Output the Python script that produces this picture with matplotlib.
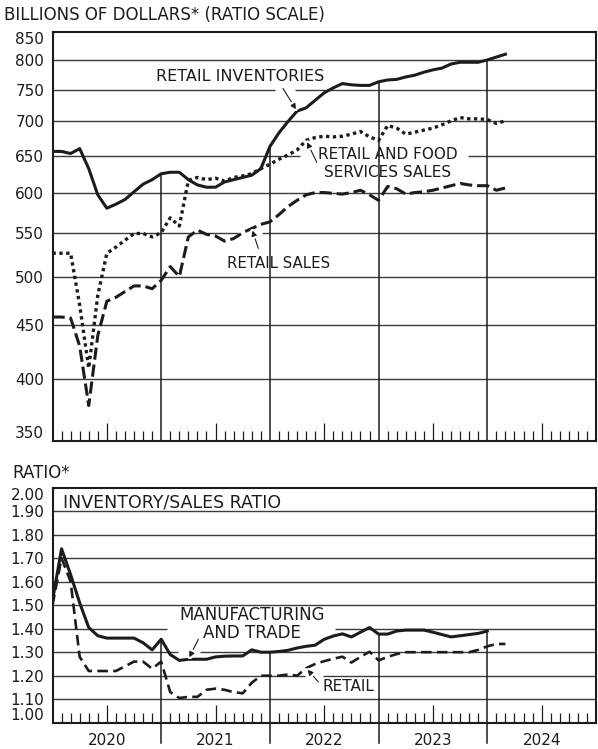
import numpy as np
import matplotlib
matplotlib.use("Agg")
import matplotlib.pyplot as plt
import matplotlib.patheffects as pe

# ---------------- data (monthly, starting January 2020) ----------------
start_year = 2020
years = [2020, 2021, 2022, 2023, 2024]

retail_inventories = [656, 656, 653, 660, 632, 597, 580, 585, 591, 601, 611, 617,
                      625, 627, 627, 617, 610, 607, 607, 614, 617, 620, 623, 632,
                      663, 683, 700, 716, 721, 733, 745, 753, 760, 758, 757, 757,
                      763, 766, 767, 771, 774, 779, 783, 786, 793, 796, 796, 796,
                      800, 805, 810]
retail_food_sales = [526, 526, 526, 470, 410, 480, 526, 533, 541, 549, 549, 545,
                     550, 568, 558, 616, 620, 617, 619, 615, 620, 622, 625, 632,
                     638, 645, 651, 658, 672, 676, 678, 677, 678, 681, 685, 677,
                     672, 694, 690, 681, 684, 687, 690, 695, 701, 706, 704, 704,
                     703, 697, 701]
retail_sales = [458, 458, 457, 430, 378, 440, 474, 478, 484, 490, 490, 487,
                496, 511, 500, 545, 553, 548, 546, 540, 543, 550, 555, 560,
                563, 572, 582, 590, 597, 600, 600, 599, 598, 600, 603, 597,
                590, 608, 605, 598, 600, 601, 603, 606, 609, 612, 610, 609,
                609, 603, 606]
ratio_mfg_trade = [1.52, 1.74, 1.63, 1.51, 1.405, 1.37, 1.36, 1.36, 1.36, 1.36, 1.34, 1.31,
                   1.355, 1.29, 1.265, 1.27, 1.27, 1.27, 1.28, 1.283, 1.284, 1.284, 1.31, 1.30,
                   1.30, 1.303, 1.308, 1.318, 1.325, 1.33, 1.355, 1.369, 1.378, 1.365, 1.385, 1.405,
                   1.377, 1.377, 1.39, 1.394, 1.394, 1.394, 1.385, 1.375, 1.365, 1.37, 1.375, 1.38,
                   1.39]
ratio_retail = [1.50, 1.70, 1.60, 1.28, 1.22, 1.22, 1.22, 1.22, 1.24, 1.26, 1.26, 1.23,
                1.26, 1.13, 1.105, 1.11, 1.11, 1.14, 1.145, 1.14, 1.13, 1.125, 1.17, 1.20,
                1.20, 1.20, 1.205, 1.20, 1.232, 1.25, 1.262, 1.272, 1.281, 1.256, 1.28, 1.302,
                1.265, 1.28, 1.292, 1.30, 1.30, 1.30, 1.30, 1.30, 1.30, 1.30, 1.30, 1.31,
                1.325, 1.335, 1.335]

top_ticks = [350, 400, 450, 500, 550, 600, 650, 700, 750, 800, 850]
top_ticklabels = ["350", "400", "450", "500", "550", "600", "650", "700", "750", "800", "850"]
bottom_ticks = [1.00, 1.10, 1.20, 1.30, 1.40, 1.50, 1.60, 1.70, 1.80, 1.90, 2.00]
bottom_ticklabels = ["1.00", "1.10", "1.20", "1.30", "1.40", "1.50", "1.60", "1.70", "1.80", "1.90", "2.00"]

# ---------------- style ----------------
plt.rcParams['font.family'] = ['DejaVu Sans']
INK = '#1c1c1c'
GRID = '#3c3c3c'
TICK_FS = 11


def months(n):
    return start_year + np.arange(n) / 12.0


W, H = 598, 749
fig = plt.figure(figsize=(W / 100, H / 100), dpi=100)
L, R = 52.5, 596.0
ax1 = fig.add_axes([L / W, 1 - 441 / H, (R - L) / W, (441 - 32) / H])
ax2 = fig.add_axes([L / W, 1 - 722.7 / H, (R - L) / W, 235 / H])

x0, x1 = years[0], years[-1] + 1


def style_axes(ax, ticks, labels, ylim, tick_frac):
    ax.set_xlim(x0, x1)
    ax.set_ylim(*ylim)
    ax.set_yticks(ticks)
    ax.set_yticklabels(labels)
    ax.yaxis.set_minor_locator(matplotlib.ticker.NullLocator())
    ax.tick_params(axis='y', length=0, pad=6, labelsize=TICK_FS, colors=INK)
    ax.set_xticks([])
    for s in ax.spines.values():
        s.set_linewidth(1.5)
        s.set_color(INK)
        s.set_zorder(6)
    # month ticks (inside, from the bottom)
    tr = ax.get_xaxis_transform()
    for y in years:
        for m in range(1, 12):
            ln = tick_frac[1] if m == 6 else tick_frac[0]
            ax.plot([y + m / 12, y + m / 12], [0, ln], color=INK, lw=0.9,
                    transform=tr, zorder=5, solid_capstyle='butt')
    labs = ax.get_yticklabels()
    labs[0].set_va('bottom')
    labs[-1].set_va('top')


# ---------------- top panel ----------------
ax1.set_yscale('log')
style_axes(ax1, top_ticks, top_ticklabels, (350, 850), (10 / 409, 18 / 409))


def to_x(px):
    return x0 + (px - L) / ((R - L) / (x1 - x0))


def hgrid(ax, y, gaps=()):
    segs = [x0]
    for a, b in gaps:
        segs += [to_x(a), to_x(b)]
    segs.append(x1)
    for i in range(0, len(segs), 2):
        ax.plot([segs[i], segs[i + 1]], [y, y], color=GRID, lw=1.0, zorder=1,
                solid_capstyle='butt')


top_gaps = {750: [(275, 295)], 650: [(300, 468)], 550: [(238, 262)]}
for t in top_ticks[1:-1]:
    hgrid(ax1, t, top_gaps.get(t, ()))

xi = months(len(retail_inventories))
xf = months(len(retail_food_sales))
xs = months(len(retail_sales))

for b in years[1:]:
    v = np.interp(b, xi, retail_inventories)
    ax1.plot([b, b], [350, v], color=INK, lw=1.1, zorder=1)

ax1.plot(xs, retail_sales, color=INK, lw=2.2, dashes=(4, 1.6), zorder=3,
         dash_capstyle='butt')
ax1.plot(xf, retail_food_sales, color=INK, lw=2.4, dashes=(1, 1.05), zorder=3,
         dash_capstyle='butt')
ax1.plot(xi, retail_inventories, color=INK, lw=2.2, zorder=4, solid_joinstyle='round')

arrow_kw = dict(arrowstyle='-|>', color=INK, lw=0.8, mutation_scale=8,
                shrinkA=0, shrinkB=1.5,
                path_effects=[pe.Stroke(linewidth=4, foreground='white'), pe.Normal()])

ax1.text(to_x(240), 771, "RETAIL INVENTORIES", ha='center', va='center',
         fontsize=11.5, color=INK, zorder=7)
ax1.annotate("", xy=(xi[27], retail_inventories[27]), xytext=(to_x(283), 752),
             arrowprops=arrow_kw, zorder=7)

ax1.text(to_x(388), 639, "RETAIL AND FOOD\nSERVICES SALES", ha='center', va='center',
         fontsize=11, color=INK, linespacing=1.2, zorder=7)
ax1.annotate("", xy=(xf[28], retail_food_sales[28]), xytext=(to_x(316.7), 641),
             arrowprops=arrow_kw, zorder=7)

ax1.text(to_x(279), 514.6, "RETAIL SALES", ha='center', va='center',
         fontsize=10.8, color=INK, zorder=7)
ax1.annotate("", xy=(xs[22], retail_sales[22]), xytext=(to_x(258.3), 531.5),
             arrowprops=arrow_kw, zorder=7)

fig.text(4 / W, 1 - 15.5 / H, "BILLIONS OF DOLLARS* (RATIO SCALE)", ha='left',
         va='center', fontsize=12, color=INK)

# ---------------- bottom panel ----------------
style_axes(ax2, bottom_ticks, bottom_ticklabels, (1.0, 2.0), (10 / 235, 18 / 235))

bottom_gaps = {1.40: [(167, 335)], 1.30: [(178, 200)], 1.20: [(305, 323)]}
for t in bottom_ticks[1:-1]:
    hgrid(ax2, t, bottom_gaps.get(round(t, 2), ()))

xm = months(len(ratio_mfg_trade))
xr = months(len(ratio_retail))

for b in years[1:]:
    v = np.interp(b, xm, ratio_mfg_trade)
    ax2.plot([b, b], [1.0 - 20 / 235, v], color=INK, lw=1.1, zorder=1, clip_on=False)

ax2.plot(xr, ratio_retail, color=INK, lw=1.9, dashes=(4, 2), zorder=3,
         dash_capstyle='butt')
ax2.plot(xm, ratio_mfg_trade, color=INK, lw=2.2, zorder=4, solid_joinstyle='round')

ax2.text(to_x(63), 1.939, "INVENTORY/SALES RATIO", ha='left', va='center',
         fontsize=12.5, color=INK, zorder=7)
ax2.text(to_x(252), 1.42, "MANUFACTURING\nAND TRADE", ha='center', va='center',
         fontsize=12, color=INK, linespacing=1.05, zorder=7)
ax2.annotate("", xy=(xm[15], ratio_mfg_trade[15]), xytext=(to_x(198.3), 1.355),
             arrowprops=arrow_kw, zorder=7)
ax2.text(to_x(323), 1.153, "RETAIL", ha='left', va='center',
         fontsize=11, color=INK, zorder=7)
ax2.annotate("", xy=(xr[28], ratio_retail[28]), xytext=(to_x(318.3), 1.174),
             arrowprops=arrow_kw, zorder=7)

for y in years:
    ax2.text(y + 0.5, -0.075, str(y), transform=ax2.get_xaxis_transform(),
             ha='center', va='center', fontsize=TICK_FS, color=INK)

fig.text(12 / W, 1 - 472.5 / H, "RATIO*", ha='left', va='center', fontsize=12, color=INK)

fig.savefig("out.png", dpi=100, facecolor='white')
